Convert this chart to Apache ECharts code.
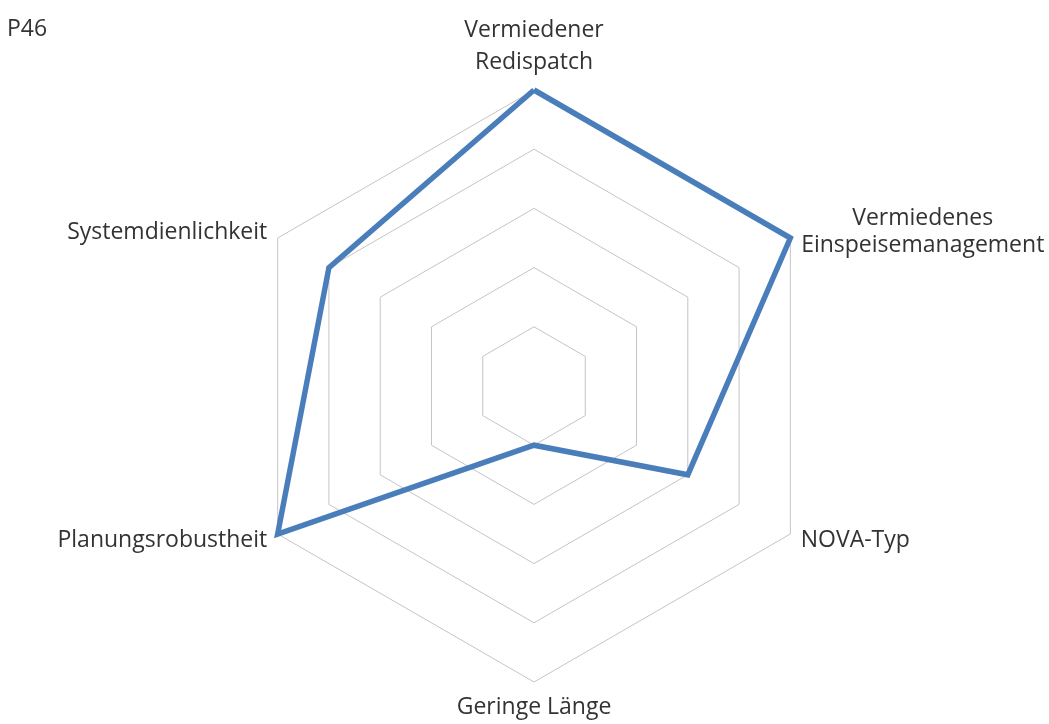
<!DOCTYPE html>
<html style="height: 100%">
<head>
    <meta charset="utf-8">
    <script src="https://cdn.jsdelivr.net/npm/echarts@6/dist/echarts.min.js"></script>
</head>
<body style="height: 100%; margin: 0; background: #fff">
    <div id="container" style="width: 1049px; height: 724px"></div>
<script>
    // indicators, counter-clockwise from the top
    var indicatorNames = ['Vermiedener\nRedispatch', 'Systemdienlichkeit', 'Planungsrobustheit',
        'Geringe Länge', 'NOVA-Typ', 'Vermiedenes\nEinspeisemanagement'];
    var indicatorMax = [5, 5, 5, 5, 5, 5];
    var p46Values = [5, 4, 5, 1, 3, 5];

    var chart = echarts.init(document.getElementById('container'));
    var textFont = '"Open Sans", sans-serif';
    var textColor = '#333333';

    var option = {
        animation: false,
        title: {
            text: 'P46',
            left: 2,
            top: 13,
            textStyle: { fontFamily: textFont, fontSize: 23, fontWeight: 'normal', color: textColor }
        },
        radar: {
            center: [534, 386],
            radius: 296,
            startAngle: 90,
            shape: 'polygon',
            splitNumber: 5,
            nameGap: 12,
            indicator: indicatorNames.map(function (n, i) {
                return { name: n, min: 0, max: indicatorMax[i] };
            }),
            axisName: {
                color: textColor,
                fontFamily: textFont,
                fontSize: 23,
                lineHeight: 26,
                formatter: function (name) {
                    var lines = name.split('\n');
                    if (name.indexOf('Einspeise') >= 0) {
                        return lines.map(function (s) { return '{c|' + s + '}'; }).join('\n');
                    }
                    if (name.indexOf('Redispatch') >= 0) {
                        return lines.map(function (s) { return '{t|' + s + '}'; }).join('\n');
                    }
                    return name;
                },
                rich: {
                    c: { width: 244, align: 'center', fontFamily: textFont, fontSize: 23, lineHeight: 27, color: textColor },
                    t: { fontFamily: textFont, fontSize: 23, lineHeight: 32, color: textColor }
                }
            },
            axisLine: { show: false },
            axisTick: { show: false },
            axisLabel: { show: false },
            splitArea: { show: false },
            splitLine: { lineStyle: { color: '#c4c4c4', width: 1 } }
        },
        series: [{
            type: 'radar',
            symbol: 'none',
            lineStyle: { color: '#4a7ebb', width: 5.5, join: 'miter' },
            data: [{ value: p46Values, name: 'P46' }]
        }]
    };
    chart.setOption(option);
</script>
</body>
</html>
